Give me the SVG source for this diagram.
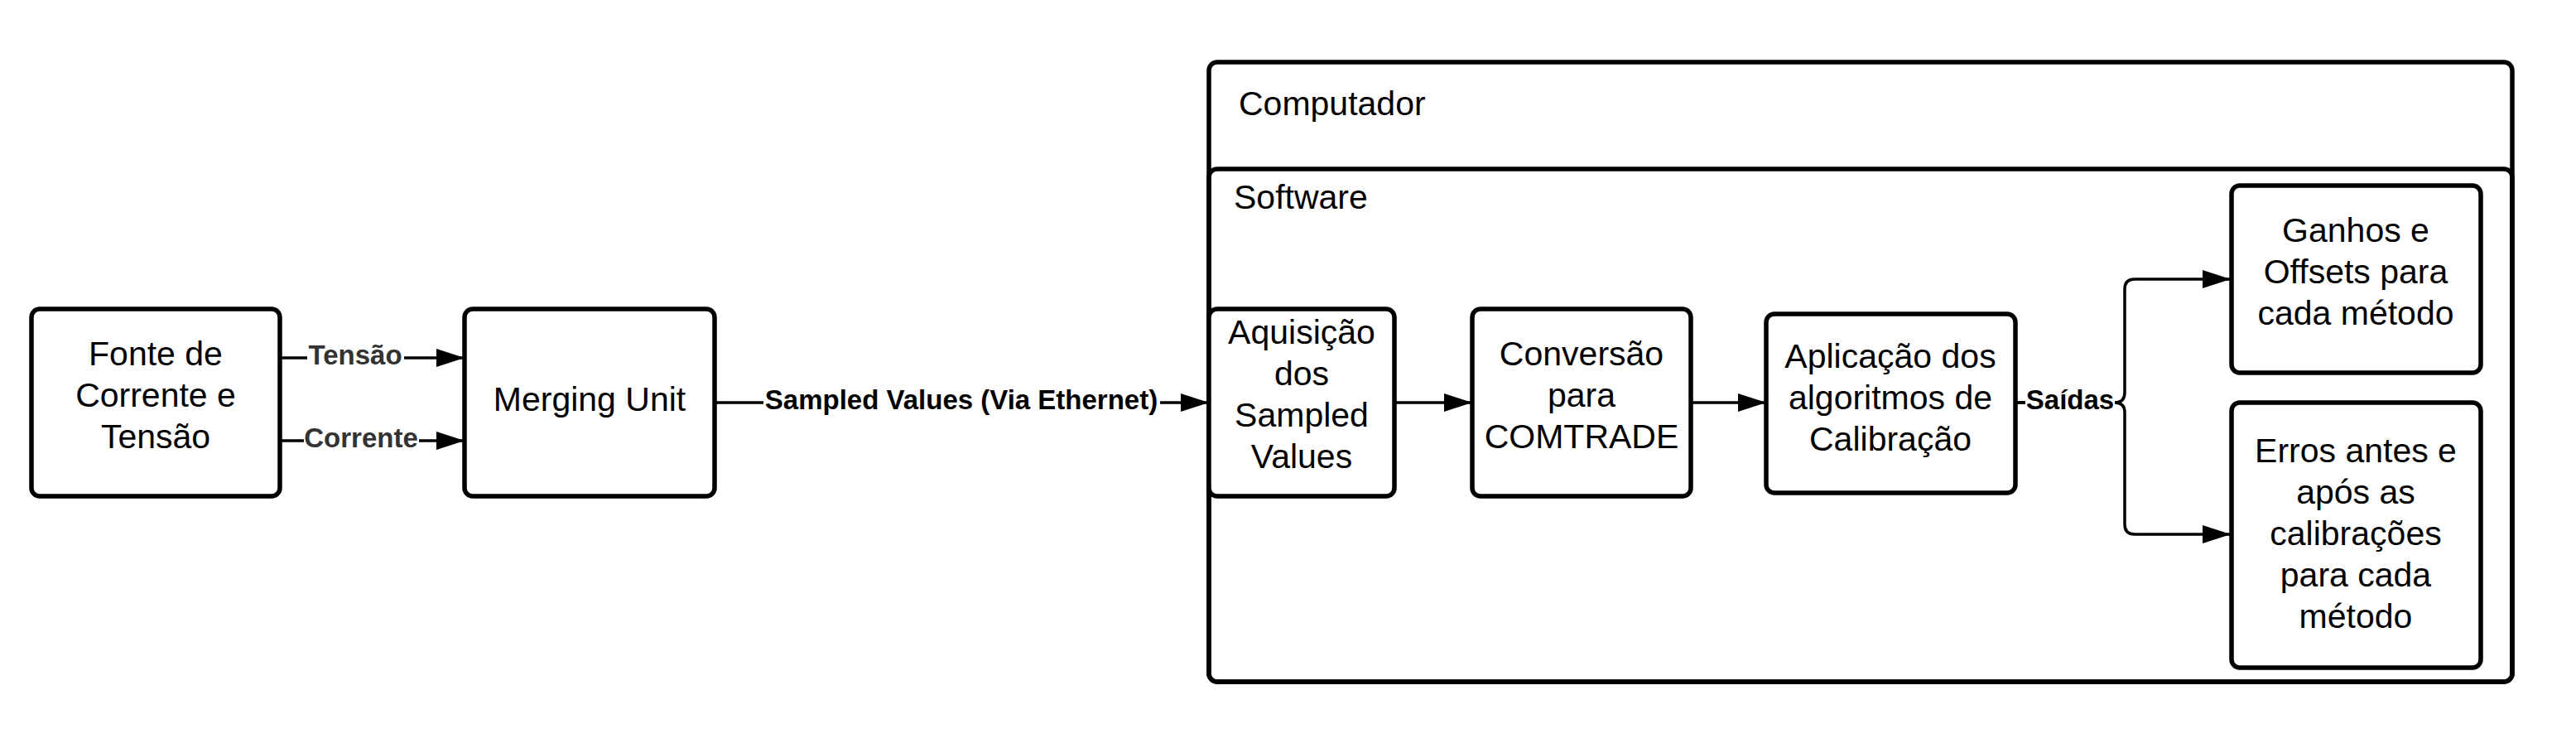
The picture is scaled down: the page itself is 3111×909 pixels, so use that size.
<svg xmlns="http://www.w3.org/2000/svg" width="3111" height="909" viewBox="0 0 3111 909">
<defs>
<style>
.box{fill:#fff;stroke:#000;stroke-width:5.5}
.cont{fill:none;stroke:#000;stroke-width:5.5}
.t{font-family:"Liberation Sans",Arial,sans-serif;font-size:41px;fill:#000;text-anchor:middle}
.tl{font-family:"Liberation Sans",Arial,sans-serif;font-size:41px;fill:#000}
.lbl{font-family:"Liberation Sans",Arial,sans-serif;font-size:33px;font-weight:bold;text-anchor:middle}
.bg{fill:#fff}
.c{fill:none;stroke:#000;stroke-width:3.5}
</style>
<marker id="ah" markerUnits="userSpaceOnUse" markerWidth="36" markerHeight="24" refX="34" refY="11" orient="auto">
<path d="M0,0 L34,11 L0,22 Z" fill="#000"/>
</marker>
</defs>
<rect width="3111" height="909" fill="#fff"/>
<g id="computador">
<rect class="cont" x="1460" y="75" width="1574" height="748" rx="10"/>
<text class="tl" x="1496" y="139">Computador</text>
</g>
<g id="software">
<rect class="cont" x="1460" y="204" width="1574" height="619" rx="10"/>
<text class="tl" x="1490" y="252">Software</text>
</g>
<g id="fonte">
<rect class="box" x="38" y="373" width="300" height="226" rx="10"/>
<text class="t" x="188" y="441">Fonte de</text>
<text class="t" x="188" y="491">Corrente e</text>
<text class="t" x="188" y="541">Tensão</text>
</g>
<g id="merging">
<rect class="box" x="561" y="373" width="302" height="226" rx="10"/>
<text class="t" x="712" y="496">Merging Unit</text>
</g>
<g id="aquisicao">
<rect class="box" x="1460" y="373" width="224" height="226" rx="10"/>
<text class="t" x="1572" y="415">Aquisição</text>
<text class="t" x="1572" y="465">dos</text>
<text class="t" x="1572" y="515">Sampled</text>
<text class="t" x="1572" y="565">Values</text>
</g>
<g id="conversao">
<rect class="box" x="1778" y="373" width="264" height="226" rx="10"/>
<text class="t" x="1910" y="441">Conversão</text>
<text class="t" x="1910" y="491">para</text>
<text class="t" x="1910" y="541">COMTRADE</text>
</g>
<g id="aplicacao">
<rect class="box" x="2133" y="379" width="301" height="216" rx="10"/>
<text class="t" x="2283" y="444">Aplicação dos</text>
<text class="t" x="2283" y="494">algoritmos de</text>
<text class="t" x="2283" y="544">Calibração</text>
</g>
<g id="ganhos">
<rect class="box" x="2695" y="224" width="301" height="226" rx="10"/>
<text class="t" x="2845" y="292">Ganhos e</text>
<text class="t" x="2845" y="342">Offsets para</text>
<text class="t" x="2845" y="392">cada método</text>
</g>
<g id="erros">
<rect class="box" x="2695" y="486" width="301" height="320" rx="10"/>
<text class="t" x="2845" y="558">Erros antes e</text>
<text class="t" x="2845" y="608">após as</text>
<text class="t" x="2845" y="658">calibrações</text>
<text class="t" x="2845" y="708">para cada</text>
<text class="t" x="2845" y="758">método</text>
</g>
<g id="connectors">
<path class="c" d="M338,432 H561" marker-end="url(#ah)"/>
<path class="c" d="M338,532 H561" marker-end="url(#ah)"/>
<path class="c" d="M863,486 H1460" marker-end="url(#ah)"/>
<path class="c" d="M1684,486 H1778" marker-end="url(#ah)"/>
<path class="c" d="M2042,486 H2133" marker-end="url(#ah)"/>
<path class="c" d="M2434,486 H2554 Q2566,486 2566,474 V349 Q2566,337 2578,337 H2694" marker-end="url(#ah)"/>
<path class="c" d="M2434,486 H2554 Q2566,486 2566,498 V633 Q2566,645 2578,645 H2694" marker-end="url(#ah)"/>
<rect class="bg" x="371" y="414" width="117" height="36"/>
<text class="lbl" x="429" y="440" fill="#333">Tensão</text>
<rect class="bg" x="367" y="514" width="139" height="36"/>
<text class="lbl" x="436" y="540" fill="#333">Corrente</text>
<rect class="bg" x="922" y="468" width="479" height="36"/>
<text class="lbl" x="1161" y="494" fill="#000">Sampled Values (Via Ethernet)</text>
<rect class="bg" x="2446" y="468" width="108" height="36"/>
<text class="lbl" x="2500" y="494" fill="#000">Saídas</text>
</g>
</svg>
